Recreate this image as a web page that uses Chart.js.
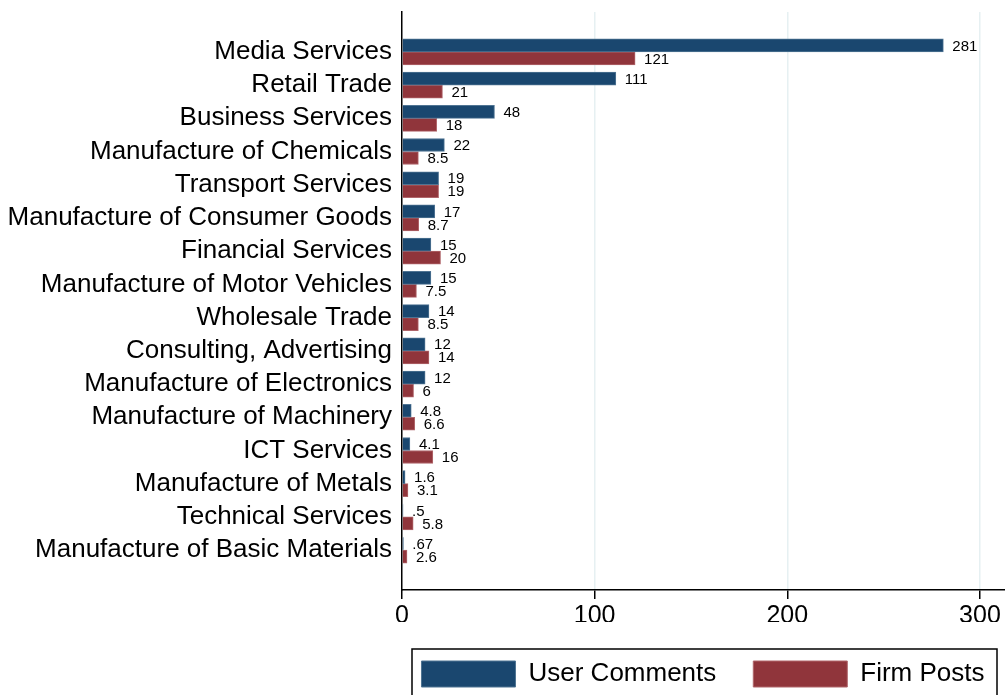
<!DOCTYPE html>
<html>
<head>
<meta charset="utf-8">
<script src="https://cdn.jsdelivr.net/npm/chart.js@4"></script>
<style>
  html, body { margin: 0; padding: 0; background: #fff; }
  #wrap { width: 1005px; height: 695px; }
</style>
</head>
<body>
<div id="wrap"><canvas id="chart" width="1005" height="695"></canvas></div>
<script>
// Sectors, top to bottom
const categories = [
  'Media Services', 'Retail Trade', 'Business Services', 'Manufacture of Chemicals',
  'Transport Services', 'Manufacture of Consumer Goods', 'Financial Services',
  'Manufacture of Motor Vehicles', 'Wholesale Trade', 'Consulting, Advertising',
  'Manufacture of Electronics', 'Manufacture of Machinery', 'ICT Services',
  'Manufacture of Metals', 'Technical Services', 'Manufacture of Basic Materials'
];
const userComments = [281, 111, 48, 22, 19, 17, 15, 15, 14, 12, 12, 4.8, 4.1, 1.6, 0.5, 0.67];
const firmPosts = [121, 21, 18, 8.5, 19, 8.7, 20, 7.5, 8.5, 14, 6, 6.6, 16, 3.1, 5.8, 2.6];
const xTicks = [0, 100, 200, 300];

const NAVY = '#1a476f';
const MAROON = '#90353b';
const FONT = "'Liberation Sans', Arial, sans-serif";

// Stata style: .5 instead of 0.5
const fmt = (v) => String(v).replace(/^0\./, '.');

const valueLabels = {
  id: 'valueLabels',
  afterDatasetsDraw(chart) {
    const ctx = chart.ctx;
    ctx.save();
    ctx.font = `15px ${FONT}`;
    ctx.fillStyle = '#000';
    ctx.textBaseline = 'middle';
    ctx.textAlign = 'left';
    chart.data.datasets.forEach((ds, di) => {
      chart.getDatasetMeta(di).data.forEach((bar, i) => {
        ctx.fillText(fmt(ds.data[i].x), bar.x + 9, bar.y + 1);
      });
    });
    ctx.restore();
  }
};

// centre the legend under the plot region and frame it
const legendBox = {
  id: 'legendBox',
  afterLayout(chart) {
    const lg = chart.legend;
    const h = lg.bottom - lg.top;
    // shift both edges equally: keeps the centre on the plot, avoids wrapping
    lg.left = chart.chartArea.left - 30;
    lg.right = chart.chartArea.right + 29;
    lg.top = 624;
    lg.bottom = lg.top + h;
  },
  afterDraw(chart) {
    const ctx = chart.ctx;
    const area = chart.chartArea;
    ctx.save();
    ctx.strokeStyle = '#000';
    ctx.lineWidth = 1.5;
    ctx.strokeRect(area.left + 10, 649, area.right - area.left - 18, 60);
    ctx.restore();
  }
};

new Chart(document.getElementById('chart'), {
  type: 'bar',
  data: {
    datasets: [
      {
        label: 'User Comments',
        data: userComments.map((v, i) => ({ x: v, y: i })),
        backgroundColor: NAVY,
        borderColor: '#4f7493',
        borderWidth: 1,
        barThickness: 13
      },
      {
        label: 'Firm Posts',
        data: firmPosts.map((v, i) => ({ x: v, y: i })),
        backgroundColor: MAROON,
        borderColor: '#b0666b',
        borderWidth: 1,
        barThickness: 13
      }
    ]
  },
  options: {
    indexAxis: 'y',
    responsive: false,
    animation: false,
    layout: { padding: { top: 12, right: 0, left: 0, bottom: 0 } },
    scales: {
      y: {
        type: 'linear',
        reverse: true,
        offset: false,
        min: -1.2,
        max: 16.2,
        afterBuildTicks: (scale) => { scale.ticks = categories.map((c, i) => ({ value: i })); },
        afterFit: (scale) => {
          scale.width = 402;
          scale.paddingTop = 0;
          scale.paddingBottom = 0;
        },
        ticks: {
          callback: (value) => categories[value],
          color: '#000',
          font: { family: FONT, size: 26 },
          padding: 10,
          autoSkip: false
        },
        grid: { display: false, drawTicks: false },
        border: { display: true, color: '#000', width: 1.5 }
      },
      x: {
        type: 'linear',
        min: 0,
        max: 313,
        afterBuildTicks: (scale) => { scale.ticks = xTicks.map(v => ({ value: v })); },
        afterFit: (scale) => {
          scale.height = 32;
          scale.paddingLeft = 0;
          scale.paddingRight = 0;
        },
        ticks: {
          color: '#000',
          font: { family: FONT, size: 25 },
          padding: 2,
          maxRotation: 0
        },
        grid: {
          color: (c) => c.tick && c.tick.value === 0 ? 'rgba(0,0,0,0)' : '#e6f0f2',
          lineWidth: 1.5,
          tickColor: '#000',
          tickLength: 9
        },
        border: { display: true, color: '#000', width: 1.5 }
      }
    },
    plugins: {
      legend: {
        position: 'bottom',
        labels: {
          boxWidth: 94,
          boxHeight: 26,
          padding: 37,
          color: '#000',
          font: { family: FONT, size: 26 }
        }
      },
      tooltip: { enabled: false }
    }
  },
  plugins: [valueLabels, legendBox]
});
</script>
</body>
</html>
